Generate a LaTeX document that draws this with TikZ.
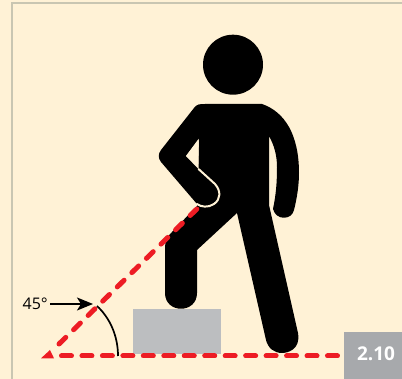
\documentclass[tikz,border=0pt]{standalone}
\usepackage{fontspec}
\setmainfont{Open Sans}
\usetikzlibrary{arrows.meta}
\definecolor{paper}{HTML}{FFF2D6}
\definecolor{framegrey}{HTML}{C9C6B2}
\definecolor{stepgrey}{HTML}{BCBEC0}
\definecolor{badgegrey}{HTML}{A7A9AC}
\definecolor{guidered}{HTML}{ED1C24}
\tikzset{
  frameline/.style={line width=2.4pt, draw=framegrey},
  figure/.style={fill=black, draw=none},
  guide/.style={line width=5pt, draw=guidered, line cap=round},
  anglearc/.style={line width=1.7pt, draw=black},
  anglelabel/.style={font=\fontsize{16}{16}\selectfont, text=black},
  badgelabel/.style={font=\fontsize{19}{19}\selectfont\bfseries, text=white},
}

\begin{document}
\begin{tikzpicture}[x=1pt,y=-1pt]
\useasboundingbox (0,0) rectangle (402,379);
\fill[paper] (0,0) rectangle (402,379);
\draw[frameline] (12,379) -- (12,3) -- (402,3);
% step
\fill[stepgrey] (133,309) rectangle (221,354);
% figure
\fill[figure] (233,64.7) circle (30);
\fill[figure] (205,104) -- (262,104)
  .. controls (285,112) and (299,135) .. (299,173)
  .. controls (299,185) and (297,198) .. (294,210)
  .. controls (292,220) and (276,221) .. (273,209)
  .. controls (276,195) and (277,182) .. (277,167)
  .. controls (277,155) and (274,145) .. (269,136)
  -- (269,205) -- (298,333)
  .. controls (301,350) and (287,353) .. (282,353)
  .. controls (274,353) and (268,348) .. (266,340)
  -- (237,213) -- (197,250) -- (197,293)
  .. controls (197,314) and (165,314) .. (165,293)
  -- (165,247) .. controls (165,240) and (168,236) .. (172,232)
  -- (197,206) -- (199,139) -- cycle;
\fill[figure] (205,104) .. controls (200,104) and (197,104) .. (194,108)
  -- (161,150) .. controls (158,154) and (158,158) .. (161,162)
  -- (197,204) .. controls (205,210) and (215,205) .. (218,198)
  .. controls (220,192) and (219,188) .. (215,184)
  -- (186,156) -- (199,139) -- (225,120) -- cycle;
\fill[paper] (186,156) -- (198.5,139) -- (198.5,169) -- cycle;
\draw[paper, line width=2pt, line cap=round] (198.5,169) -- (215,184)
  .. controls (221,191) and (221,199) .. (214,204)
  .. controls (208,208) and (201,207) .. (197,204);
% guide lines
\draw[guide, dash pattern=on 10pt off 10.46pt] (61.5,356) -- (338,356);
\draw[guide, dash pattern=on 9.5pt off 10.9pt] (59,344) -- (196.8,209);
\fill[guidered] (41,358.3) -- (50,350) -- (54,358.3) -- cycle;
% angle mark
\draw[anglearc] (97,306) .. controls (110,318) and (118,336) .. (118,356);
\coordinate (tip) at (93,304);
\node[anglelabel, anchor=east, inner sep=0pt] (angle) at (48,304) {45°};
\draw[-{Stealth[length=16pt,width=13pt,inset=4pt]}, line width=1.7pt] (angle.east) ++(2,0) -- (tip);
% badge
\fill[badgegrey] (344,332) rectangle (402,379);
\node[badgelabel, inner sep=0pt] (badge) at (376,354) {2.10};
\end{tikzpicture}
\end{document}
